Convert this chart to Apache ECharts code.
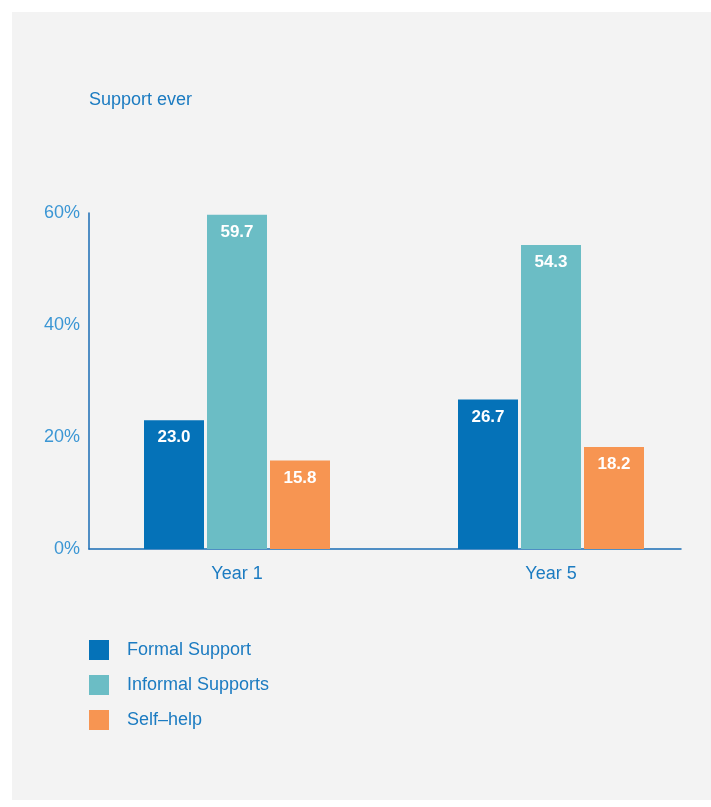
<!DOCTYPE html>
<html>
<head>
<meta charset="utf-8">
<script src="https://cdn.jsdelivr.net/npm/echarts@6/dist/echarts.min.js"></script>
<style>
  html, body { margin: 0; padding: 0; background: #ffffff; }
  #chart { width: 711px; height: 807px; }
</style>
</head>
<body>
<div id="chart"></div>
<script>
// Share of respondents who ever used each kind of support
const categories = ['Year 1', 'Year 5'];
const seriesNames = ['Formal Support', 'Informal Supports', 'Self\u2013help'];
const formalSupport = [23.0, 26.7];
const informalSupports = [59.7, 54.3];
const selfHelp = [15.8, 18.2];
const yTicks = [0, 20, 40, 60];

const colors = ['#0572b8', '#6bbdc5', '#f79552'];
const fontFamily = '"Liberation Sans", Arial, Helvetica, sans-serif';

const chart = echarts.init(document.getElementById('chart'), null, { renderer: 'canvas' });

function barSeries(name, values, color) {
  return {
    name: name,
    type: 'bar',
    xAxisIndex: 1,
    yAxisIndex: 1,
    data: values,
    barWidth: 60,
    barGap: '5%',
    itemStyle: { color: color },
    label: {
      show: true,
      position: 'insideTop',
      distance: 9,
      color: '#ffffff',
      fontFamily: fontFamily,
      fontSize: 17,
      fontWeight: 'bold',
      formatter: p => p.value.toFixed(1)
    }
  };
}

chart.setOption({
  animation: false,
  graphic: [{
    type: 'rect',
    z: -10,
    shape: { x: 12, y: 12, width: 699, height: 788 },
    style: { fill: '#f3f3f3' }
  }],
  title: {
    text: 'Support ever',
    left: 89,
    top: 91,
    padding: 0,
    textStyle: { color: '#1b7bc1', fontSize: 18, fontWeight: 'normal', fontFamily: fontFamily }
  },
  legend: {
    orient: 'vertical',
    left: 89,
    top: 640,
    padding: 0,
    itemWidth: 20,
    itemHeight: 20,
    itemGap: 15,
    icon: 'rect',
    data: seriesNames,
    textStyle: { color: '#1b7bc1', fontSize: 18, fontFamily: fontFamily, padding: [1, 0, 0, 13] }
  },
  grid: [
    { left: 89, right: 30, top: 213, bottom: 258 },
    { left: 80, right: 3, top: 213, bottom: 258 }
  ],
  xAxis: [
    {
      type: 'category',
      gridIndex: 0,
      data: categories,
      axisLine: { show: true, lineStyle: { color: '#1a6db5', width: 1.5 } },
      axisTick: { show: false },
      axisLabel: { show: false }
    },
    {
      type: 'category',
      gridIndex: 1,
      data: categories,
      axisLine: { show: false },
      axisTick: { show: false },
      axisLabel: { color: '#1b7bc1', fontSize: 18, fontFamily: fontFamily, margin: 16 }
    }
  ],
  yAxis: [
    {
      type: 'value',
      gridIndex: 0,
      min: yTicks[0],
      max: yTicks[yTicks.length - 1],
      interval: yTicks[1] - yTicks[0],
      axisLine: { show: true, lineStyle: { color: '#1a6db5', width: 1.5 } },
      axisTick: { show: false },
      splitLine: { show: false },
      axisLabel: { color: '#3b96d4', fontSize: 18, fontFamily: fontFamily, margin: 9, padding: [4, 0, 0, 0], formatter: '{value}%' }
    },
    {
      type: 'value',
      gridIndex: 1,
      min: yTicks[0],
      max: yTicks[yTicks.length - 1],
      show: false
    }
  ],
  series: [
    barSeries(seriesNames[0], formalSupport, colors[0]),
    barSeries(seriesNames[1], informalSupports, colors[1]),
    barSeries(seriesNames[2], selfHelp, colors[2])
  ]
});
</script>
</body>
</html>
